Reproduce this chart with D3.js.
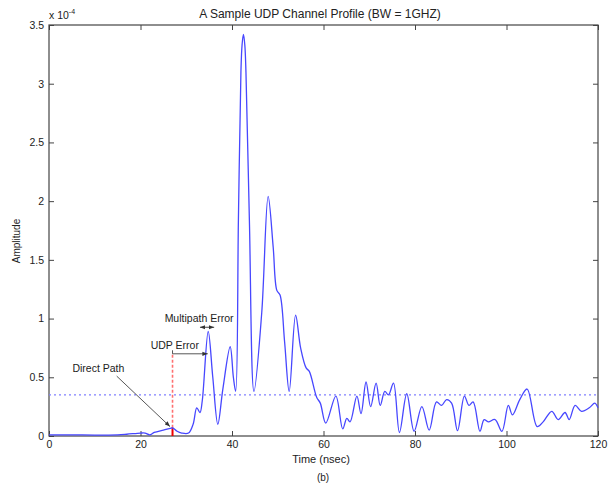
<!DOCTYPE html>
<html>
<head>
<meta charset="utf-8">
<script src="https://cdn.jsdelivr.net/npm/d3@7"></script>
<style>
  body { margin: 0; background: #fff; }
  text { font-family: "Liberation Sans", Arial, sans-serif; fill: #222; }
</style>
</head>
<body>
<div id="chart"></div>
<script>
  // channel profile, time in nsec, amplitude in units of 1e-4
  const times = [0, 5, 10, 15, 17, 20, 21, 22, 23, 25, 26.5, 27, 28, 29, 30.5, 31.5, 32.3, 33, 33.5, 34.8,
    35.8, 36.9, 38, 39.6, 40.3, 40.8, 41.4, 41.95, 42.2, 42.5, 42.8, 43.05, 43.8, 44.8, 46.5, 47.9, 49.0, 49.8, 50.5, 51.5,
    52.5, 53.9, 55, 56.2, 56.9, 58.5, 59.3, 60.5, 62.7, 64.2, 65.1, 65.8, 67.3, 68.2, 69.3, 70.3, 71.5,
    72.4, 73.4, 74.2, 75.3, 76.6, 78.2, 79.8, 81.5, 83.1, 84.7, 85.8, 86.9, 88.0, 89.3, 90.8, 91.8, 92.7,
    94.2, 95.1, 96.0, 97.5, 99.0, 100.4, 101.3, 102.9, 104.5, 106.7, 108.0, 109.9, 111.3, 112.8, 113.7,
    115.0, 116.4, 118.1, 119.3, 120];
  const amplitude = [0.01, 0.01, 0.008, 0.01, 0.015, 0.025, 0.025, 0.01, 0.03, 0.05, 0.065, 0.07, 0.04, 0.025, 0.025, 0.1, 0.24, 0.2, 0.3, 0.89,
    0.5, 0.10, 0.4, 0.76, 0.5, 0.38, 1.84, 3.1, 3.33, 3.42, 3.33, 3.1, 1.84, 0.38, 1.05, 2.04, 1.61, 1.24, 1.2, 0.8,
    0.38, 1.03, 0.75, 0.58, 0.55, 0.33, 0.28, 0.11, 0.34, 0.06, 0.15, 0.12, 0.34, 0.19, 0.46, 0.25, 0.45,
    0.26, 0.38, 0.35, 0.45, 0.03, 0.36, 0.04, 0.25, 0.05, 0.29, 0.26, 0.31, 0.28, 0.045, 0.34, 0.26, 0.29,
    0.04, 0.14, 0.12, 0.14, 0.04, 0.26, 0.18, 0.31, 0.40, 0.08, 0.12, 0.21, 0.14, 0.20, 0.14,
    0.26, 0.21, 0.24, 0.28, 0.24];

  const xTicks = [0, 20, 40, 60, 80, 100, 120];
  const yTicks = [0, 0.5, 1, 1.5, 2, 2.5, 3, 3.5];
  const threshold = 0.35;
  const directPathTime = 27;

  const width = 609, height = 489;
  const margin = { top: 25, right: 11, bottom: 53, left: 49 };

  const svg = d3.select("#chart").append("svg")
    .attr("width", width)
    .attr("height", height);

  const x = d3.scaleLinear().domain([0, 120]).range([margin.left, width - margin.right]);
  const y = d3.scaleLinear().domain([0, 3.5]).range([height - margin.bottom, margin.top]);

  const defs = svg.append("defs");
  defs.append("marker")
    .attr("id", "arrow")
    .attr("viewBox", "0 0 10 10")
    .attr("refX", 10).attr("refY", 5)
    .attr("markerWidth", 6).attr("markerHeight", 6)
    .attr("orient", "auto-start-reverse")
    .append("path")
    .attr("d", "M0,1 L10,5 L0,9 z")
    .attr("fill", "#333");

  // axes, ticks pointing inward
  const axisStyle = g => {
    g.selectAll(".domain").remove();
    g.selectAll(".tick line").attr("stroke", "#444");
    g.selectAll(".tick text").attr("font-size", 10.5).attr("fill", "#222")
      .attr("font-family", "Liberation Sans, Arial, sans-serif");
  };

  svg.append("g")
    .attr("transform", `translate(0,${y(0)})`)
    .call(d3.axisBottom(x).tickValues(xTicks).tickSizeInner(-5).tickSizeOuter(0).tickPadding(5))
    .call(axisStyle);
  svg.append("g")
    .attr("transform", `translate(0,${y(3.5)})`)
    .call(d3.axisTop(x).tickValues(xTicks).tickSizeInner(-5).tickSizeOuter(0).tickFormat(""))
    .call(axisStyle);
  svg.append("g")
    .attr("transform", `translate(${x(0)},0)`)
    .call(d3.axisLeft(y).tickValues(yTicks).tickSizeInner(-5).tickSizeOuter(0).tickPadding(5).tickFormat(d => d))
    .call(axisStyle);
  svg.append("g")
    .attr("transform", `translate(${x(120)},0)`)
    .call(d3.axisRight(y).tickValues(yTicks).tickSizeInner(-5).tickSizeOuter(0).tickFormat(""))
    .call(axisStyle);

  svg.append("rect")
    .attr("x", x(0)).attr("y", y(3.5))
    .attr("width", x(120) - x(0)).attr("height", y(0) - y(3.5))
    .attr("fill", "none").attr("stroke", "#444").attr("stroke-width", 1.2);

  // threshold
  svg.append("line")
    .attr("x1", x(0)).attr("x2", x(120))
    .attr("y1", y(threshold)).attr("y2", y(threshold))
    .attr("stroke", "#8080ff").attr("stroke-width", 1.1)
    .attr("stroke-dasharray", "2,3");

  // direct path marker
  svg.append("line")
    .attr("x1", x(directPathTime)).attr("x2", x(directPathTime))
    .attr("y1", y(0.07)).attr("y2", y(0.7))
    .attr("stroke", "#ff7070").attr("stroke-width", 1.6)
    .attr("stroke-dasharray", "3,2");
  svg.append("line")
    .attr("x1", x(directPathTime)).attr("x2", x(directPathTime))
    .attr("y1", y(0)).attr("y2", y(0.07))
    .attr("stroke", "#e00").attr("stroke-width", 2);

  const line = d3.line()
    .x((d, i) => x(times[i]))
    .y(d => y(d))
    .curve(d3.curveCatmullRom.alpha(0.5));

  svg.append("path")
    .datum(amplitude)
    .attr("d", line)
    .attr("fill", "none")
    .attr("stroke", "#4747ff")
    .attr("stroke-width", 1.3);

  // annotations
  svg.append("line")
    .attr("x1", x(14.8)).attr("y1", y(0.51))
    .attr("x2", x(26.45)).attr("y2", y(0.08))
    .attr("stroke", "#444").attr("stroke-width", 0.9)
    .attr("marker-end", "url(#arrow)");
  svg.append("text")
    .attr("x", x(10.8)).attr("y", y(0.545))
    .attr("text-anchor", "middle").attr("font-size", 10.5)
    .text("Direct Path");

  svg.append("line")
    .attr("x1", x(directPathTime)).attr("y1", y(0.7))
    .attr("x2", x(34.7)).attr("y2", y(0.7))
    .attr("stroke", "#444").attr("stroke-width", 0.9)
    .attr("marker-end", "url(#arrow)");
  svg.append("line")
    .attr("x1", x(directPathTime)).attr("y1", y(0.7))
    .attr("x2", x(directPathTime)).attr("y2", y(0.73))
    .attr("stroke", "#444").attr("stroke-width", 0.9);
  svg.append("text")
    .attr("x", x(27.5)).attr("y", y(0.74))
    .attr("text-anchor", "middle").attr("font-size", 10.5)
    .text("UDP Error");

  svg.append("line")
    .attr("x1", x(33.0)).attr("y1", y(0.926))
    .attr("x2", x(36.1)).attr("y2", y(0.926))
    .attr("stroke", "#333").attr("stroke-width", 0.9)
    .attr("marker-start", "url(#arrow)")
    .attr("marker-end", "url(#arrow)");
  svg.append("text")
    .attr("x", x(32.8)).attr("y", y(0.97))
    .attr("text-anchor", "middle").attr("font-size", 10.5)
    .text("Multipath Error");

  // title and labels
  svg.append("text")
    .attr("x", 320).attr("y", 18)
    .attr("text-anchor", "middle").attr("font-size", 12)
    .text("A Sample UDP Channel Profile (BW = 1GHZ)");

  const exp = svg.append("text")
    .attr("x", x(0)).attr("y", 19)
    .attr("font-size", 10.5);
  exp.append("tspan").text("x 10");
  exp.append("tspan").attr("dy", -5).attr("font-size", 7).text("-4");

  svg.append("text")
    .attr("transform", `translate(20,${241}) rotate(-90)`)
    .attr("text-anchor", "middle").attr("font-size", 10)
    .text("Amplitude");

  svg.append("text")
    .attr("x", 321).attr("y", 463)
    .attr("text-anchor", "middle").attr("font-size", 11)
    .text("Time (nsec)");

  svg.append("text")
    .attr("x", 323).attr("y", 481)
    .attr("text-anchor", "middle").attr("font-size", 10)
    .text("(b)");
</script>
</body>
</html>
